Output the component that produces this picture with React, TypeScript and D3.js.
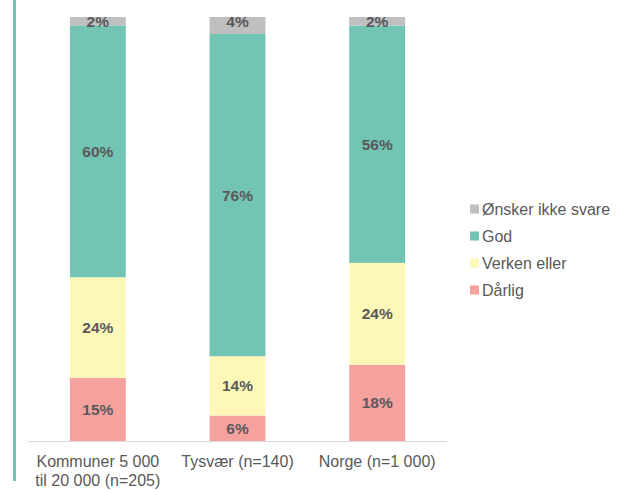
import React, { useMemo } from 'react';
import * as d3 from 'd3';

// kategorier og svarserier (100 % stablet)
const categories = ['Kommuner 5 000\ntil 20 000 (n=205)', 'Tysvær (n=140)', 'Norge (n=1 000)'];
const seriesNames = ['Dårlig', 'Verken eller', 'God', 'Ønsker ikke svare'];
const darlig = [15, 6, 18];
const verken = [24, 14, 24];
const god = [60, 76, 56];
const onsker = [2, 4, 2];
const seriesColors = ['#F5A19E', '#FEF8B8', '#72C4B3', '#BFBFBF'];

const W = 620;
const H = 490;
const FONT = '"Liberation Sans", Arial, sans-serif';

export default function App() {
  const x = useMemo(
    () => d3.scaleBand<number>().domain(d3.range(categories.length)).range([28, 447]).paddingInner(0.6).paddingOuter(0.3),
    [],
  );
  const y = useMemo(() => d3.scaleLinear().domain([0, 1]).range([441, 17]), []);

  // stable data til d3.stack
  const rows = categories.map((_, i) => ({
    'Dårlig': darlig[i],
    'Verken eller': verken[i],
    God: god[i],
    'Ønsker ikke svare': onsker[i],
  }));
  const stacked = d3.stack<any>().keys(seriesNames).offset(d3.stackOffsetExpand)(rows);

  const legendOrder = [3, 2, 1, 0];

  return (
    <svg width={W} height={H} style={{ position: 'absolute', left: 0, top: 0, display: 'block' }} fontFamily={FONT}>
      <rect width={W} height={H} fill="#fff" />
      {/* venstre dekorlinje */}
      <rect x={13} y={0} width={3} height={481} fill="#72C4B3" />

      {stacked.map((layer, si) => (
        <g key={layer.key}>
          {layer.map((d, i) => {
            const raw = rows[i][layer.key as keyof (typeof rows)[0]] as number;
            const y0 = y(d[0]);
            const y1 = y(d[1]);
            return (
              <g key={i}>
                <rect x={x(i)} y={y1} width={x.bandwidth()} height={y0 - y1} fill={seriesColors[si]} />
                <text
                  x={(x(i) ?? 0) + x.bandwidth() / 2}
                  y={si === 3 ? y1 + 10 : (y0 + y1) / 2 + 5.5}
                  textAnchor="middle"
                  fontSize={15.5}
                  fontWeight="bold"
                  fill="#595959">
                  {raw}%
                </text>
              </g>
            );
          })}
        </g>
      ))}

      {/* x-akse */}
      <line x1={28} x2={447} y1={441.5} y2={441.5} stroke="#D9D9D9" strokeWidth={1} />
      {categories.map((c, i) => (
        <text key={c} textAnchor="middle" fontSize={16} fill="#595959">
          {c.split('\n').map((line, li) => (
            <tspan key={li} x={(x(i) ?? 0) + x.bandwidth() / 2} y={467 + li * 19}>
              {line}
            </tspan>
          ))}
        </text>
      ))}

      {/* legende */}
      {legendOrder.map((si, k) => (
        <g key={seriesNames[si]} transform={`translate(470, ${209 + k * 27})`}>
          <rect x={0} y={-4.5} width={9} height={9} fill={seriesColors[si]} />
          <text x={12} y={5.5} fontSize={16} fill="#595959">
            {seriesNames[si]}
          </text>
        </g>
      ))}
    </svg>
  );
}
